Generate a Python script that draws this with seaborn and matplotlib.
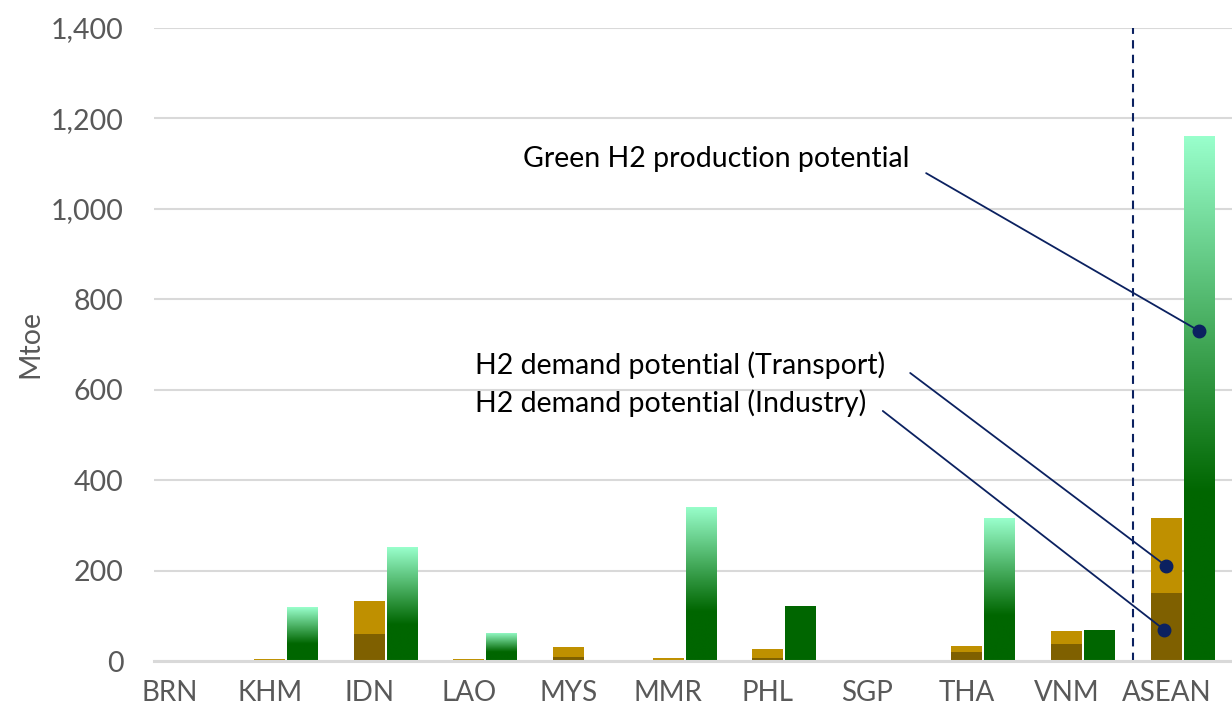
import numpy as np
import pandas as pd
import matplotlib
matplotlib.use("Agg")
import matplotlib.pyplot as plt
import seaborn as sns
from matplotlib.colors import to_rgb

# ---------------- data ----------------
categories = ["BRN", "KHM", "IDN", "LAO", "MYS", "MMR", "PHL", "SGP", "THA", "VNM", "ASEAN"]
industry = [0, 0.5, 60, 0.5, 9, 2, 7, 0.5, 20, 38, 150]
transport = [0, 4, 73, 3, 22, 5, 19.5, 2.5, 13, 28, 166]
green_h2 = [0, 119, 252, 62, 0, 341, 122, 0, 316, 69, 1161]
y_ticks = [0, 200, 400, 600, 800, 1000, 1200, 1400]
y_label = "Mtoe"

callout_texts = ["Green H2 production potential",
                 "H2 demand potential (Transport)",
                 "H2 demand potential (Industry)"]
callout_text_pos = [(3.54, 1110), (3.06, 655), (3.06, 571)]
callout_line_start = [(7.59, 1079), (7.43, 637), (7.155, 553)]
callout_dot = [(10.33, 730), (10.0, 210), (9.98, 69)]
divider_x = 9.67

# ---------------- style ----------------
GOLD = "#BF9000"
BROWN = "#7F6000"
DARK_GREEN = "#006600"
LIGHT_GREEN = "#99FFCC"
NAVY = "#0B2160"
GRID = "#D9D9D9"
TXT = "#595959"
FS = 20.5
solid_green = ["PHL", "VNM"]

sns.set_theme(style="white")
plt.rcParams['font.family'] = ['Lato', 'DejaVu Sans']

fig = plt.figure(figsize=(12.32, 7.15), dpi=100)
ax = fig.add_axes([154 / 1232, 54 / 715, 1078 / 1232, 633 / 715])

series_order = ["spacer", "demand", "green"]
demand_total = [i + t for i, t in zip(industry, transport)]
df_main = pd.DataFrame({
    "category": categories * 2,
    "series": ["demand"] * len(categories) + ["green"] * len(categories),
    "value": demand_total + green_h2,
})
df_ind = pd.DataFrame({
    "category": categories,
    "series": ["demand"] * len(categories),
    "value": industry,
})

common = dict(x="category", y="value", hue="series", hue_order=series_order,
              order=categories, width=0.993, gap=0.06, dodge=True,
              legend=False, errorbar=None, saturation=1, ax=ax, zorder=3,
              linewidth=0, edgecolor="none")

sns.barplot(data=df_main, palette={"spacer": "white", "demand": GOLD, "green": DARK_GREEN}, **common)
green_rgb = np.array(to_rgb(DARK_GREEN))
green_bars = [p for p in ax.patches
              if np.allclose(np.array(p.get_facecolor()[:3]), green_rgb, atol=0.02)]
sns.barplot(data=df_ind, palette={"spacer": "white", "demand": BROWN, "green": DARK_GREEN}, **common)

# gradient fill for green bars
light_rgb = np.array(to_rgb(LIGHT_GREEN))
t = np.linspace(0, 1, 256)
f = 0.32
s = np.clip((t - f) / (1 - f), 0, 1)
grad = (green_rgb[None, :] * (1 - s[:, None]) + light_rgb[None, :] * s[:, None])[:, None, :]
for bar in green_bars:
    h = bar.get_height()
    if h <= 0:
        continue
    x0 = bar.get_x()
    w = bar.get_width()
    idx = int(round(x0 + w / 2 - 0.331))
    if categories[idx] in solid_green:
        continue
    bar.set_facecolor("none")
    bar.set_edgecolor("none")
    im = ax.imshow(grad, extent=[x0, x0 + w, 0, h], origin="lower", aspect="auto",
                   zorder=3, interpolation="bilinear")
    im.set_clip_path(bar)

# divider
ax.axvline(divider_x, color=NAVY, lw=1.5, ls=(0, (4, 3)), zorder=4)

# callouts
for txt, tp, ls, dp in zip(callout_texts, callout_text_pos, callout_line_start, callout_dot):
    ax.text(tp[0], tp[1], txt, ha="left", va="center", fontsize=FS, color="black", zorder=6)
    ax.plot([ls[0], dp[0]], [ls[1], dp[1]], color=NAVY, lw=1.3, zorder=6)
    ax.plot([dp[0]], [dp[1]], marker="o", ms=9, color=NAVY, zorder=7)

# axes formatting
ax.set_xlim(-0.16, 10.66)
ax.set_ylim(0, 1400)
ax.set_yticks(y_ticks)
ax.set_yticklabels([f"{v:,}" for v in y_ticks])
ax.yaxis.grid(True, color=GRID, lw=1.5, zorder=0)
ax.set_axisbelow(True)
for side in ["left", "right", "top"]:
    ax.spines[side].set_visible(False)
ax.spines["bottom"].set_color(GRID)
ax.spines["bottom"].set_linewidth(2.2)
ax.spines["bottom"].set_zorder(5)
ax.tick_params(axis="y", length=0, pad=22, labelsize=FS, labelcolor=TXT)
ax.tick_params(axis="x", length=0, pad=14, labelsize=20, labelcolor=TXT)
ax.set_xlabel("")
ax.set_ylabel(y_label, fontsize=FS, color=TXT, labelpad=5)

fig.savefig("out.png", dpi=100)
